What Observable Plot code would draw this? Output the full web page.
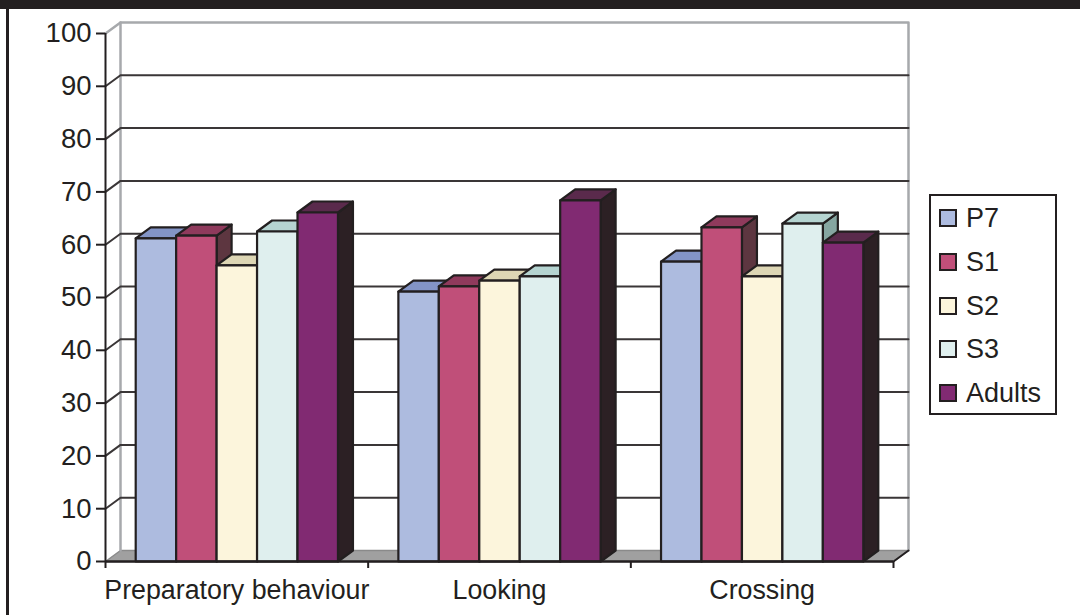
<!DOCTYPE html>
<html>
<head>
<meta charset="utf-8">
<script src="https://cdn.jsdelivr.net/npm/d3@7"></script>
<script src="https://cdn.jsdelivr.net/npm/@observablehq/plot@0.6"></script>
<style>
  html, body { margin: 0; padding: 0; background: #fff; }
  #frame { position: relative; width: 1080px; height: 615px; overflow: hidden; font-family: "Liberation Sans", Arial, sans-serif; color: #231f20; }
  #frame svg { position: absolute; left: 0; top: 0; }
  .edge { position: absolute; background: #231f20; }
  #legend { position: absolute; left: 929px; top: 194px; width: 124px; height: 217px; border: 2px solid #231f20; background: #fff; }
  .entry { position: absolute; left: 8px; height: 20px; display: flex; align-items: center; font-size: 27px; line-height: 20px; }
  .swatch { width: 18px; height: 18px; border: 2px solid #231f20; margin-right: 9px; box-sizing: border-box; }
</style>
</head>
<body>
<div id="frame"></div>
<script>
// Categories, series and readings (percent)
const categories = ["Preparatory behaviour", "Looking", "Crossing"];
const series = ["P7", "S1", "S2", "S3", "Adults"];
const P7 = [61.2, 51.1, 56.8];
const S1 = [61.7, 52.1, 63.3];
const S2 = [56.1, 53.2, 54.0];
const S3 = [62.5, 54.0, 64.0];
const Adults = [66.1, 68.4, 60.4];
const readings = [P7, S1, S2, S3, Adults];
const yTicks = d3.range(0, 101, 10);

// Face colours per series: front, top, side
const frontColors = ["#adbbdf", "#c04f79", "#fcf5dc", "#dfefee", "#812a72"];
const topColors = ["#8394c6", "#8f3a5c", "#ddd6b4", "#b5d4d1", "#5a2a4c"];
const sideColors = ["#5d6a92", "#5d3640", "#a8a285", "#86a6a1", "#2c2024"];

// Oblique projection: how far the back plane sits from the front, in data units
const depthX = 15 / 262.67;
const depthY = 11 / 5.28;
const barWidth = 0.154;
const groupPad = 0.115;
const ink = "#231f20";
const wallGray = "#a7a9ac";

// Every bar becomes three closed polygons, painted from left to right
const faces = [];
readings.forEach((values, s) => {
  values.forEach((v, g) => {
    const x0 = g + groupPad + s * barWidth;
    const x1 = x0 + barWidth;
    const poly = (face, color, pts) =>
      pts.forEach(([x, y]) => faces.push({id: `${g}-${s}-${face}`, color, x, y}));
    poly("side", sideColors[s], [[x1, 0], [x1 + depthX, depthY], [x1 + depthX, v + depthY], [x1, v]]);
    poly("top", topColors[s], [[x0, v], [x0 + depthX, v + depthY], [x1 + depthX, v + depthY], [x1, v]]);
    poly("front", frontColors[s], [[x0, 0], [x0, v], [x1, v], [x1, 0]]);
  });
});

// Floor of the box
const floor = [[0, 0], [depthX, depthY], [3 + depthX, depthY], [3, 0]].map(([x, y]) => ({x, y}));
// Grid lines run up the left wall, then across the back wall
const gridTicks = yTicks.filter(d => d > 0 && d < 100);
const gridPath = gridTicks.flatMap(t => [
  {t, x: 0, y: t},
  {t, x: depthX, y: t + depthY},
  {t, x: 3 + depthX, y: t + depthY}
]);
// Grey outline of the back wall and its top corner
const wallPath = [[0, 100], [depthX, 100 + depthY], [3 + depthX, 100 + depthY], [3 + depthX, depthY]].map(([x, y]) => ({x, y}));
const wallLeft = [[depthX, depthY], [depthX, 100 + depthY]].map(([x, y]) => ({x, y}));

const chart = Plot.plot({
  width: 1080,
  height: 615,
  marginLeft: 105,
  marginRight: 187,
  marginTop: 33,
  marginBottom: 54,
  style: {fontFamily: "'Liberation Sans', Arial, sans-serif", background: "transparent", color: ink, overflow: "visible"},
  x: {domain: [0, 3]},
  y: {domain: [0, 100]},
  color: {type: "identity"},
  marks: [
    Plot.line(floor, {x: "x", y: "y", curve: "linear-closed", fill: "#a0a0a0", stroke: "#8a8a8a", strokeWidth: 1.5}),
    Plot.line(wallPath, {x: "x", y: "y", stroke: wallGray, strokeWidth: 2.5}),
    Plot.line(wallLeft, {x: "x", y: "y", stroke: wallGray, strokeWidth: 2.5}),
    Plot.line(gridPath, {x: "x", y: "y", z: "t", stroke: "#3a3637", strokeWidth: 2}),
    Plot.line(faces, {x: "x", y: "y", z: "id", fill: "color", curve: "linear-closed", stroke: ink, strokeWidth: 2.2, strokeLinejoin: "round"}),
    Plot.ruleX([0], {y1: 0, y2: 100, stroke: ink, strokeWidth: 2}),
    Plot.ruleY([0], {x1: 0, x2: 3, stroke: ink, strokeWidth: 2.5}),
    Plot.line([{x: 3, y: 0}, {x: 3 + depthX, y: depthY}], {x: "x", y: "y", stroke: ink, strokeWidth: 2}),
    Plot.axisY({ticks: yTicks, tickSize: 9, tickPadding: 5, fontSize: 27.5, label: null, stroke: ink, strokeWidth: 2, fill: ink}),
    Plot.axisX({ticks: [0, 1, 2, 3], tickSize: 7, tickFormat: () => "", label: null, stroke: ink, strokeWidth: 2}),
    Plot.text(categories, {x: (d, i) => i + 0.5, y: 0, text: d => d, dy: 29, fontSize: 26.8, fill: ink})
  ]
});

const frame = document.getElementById("frame");
frame.appendChild(chart);

// Dark page edges
[["0", "0", "1080px", "9px"], ["6px", "0", "2.5px", "615px"]].forEach(([l, t, w, h]) => {
  const e = document.createElement("div");
  e.className = "edge";
  e.style.cssText = `left:${l};top:${t};width:${w};height:${h}`;
  frame.appendChild(e);
});

// Legend box
const legend = document.createElement("div");
legend.id = "legend";
series.forEach((name, i) => {
  const row = document.createElement("div");
  row.className = "entry";
  row.style.top = `${12 + i * 43.8}px`;
  const sw = document.createElement("span");
  sw.className = "swatch";
  sw.style.background = frontColors[i];
  row.appendChild(sw);
  row.appendChild(document.createTextNode(name));
  legend.appendChild(row);
});
frame.appendChild(legend);
</script>
</body>
</html>
